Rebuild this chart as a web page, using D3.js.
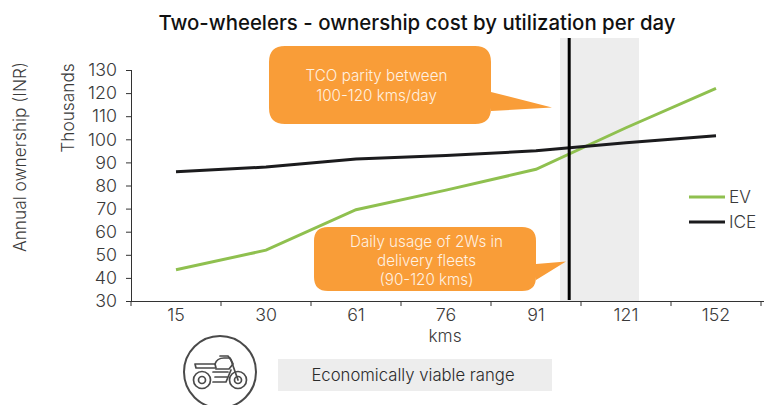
<!DOCTYPE html>
<html><head><meta charset="utf-8">
<script src="https://cdnjs.cloudflare.com/ajax/libs/d3/7.8.5/d3.min.js"></script>
<style>html,body{margin:0;padding:0;background:#fff}svg{display:block}text{font-family:Inter,"Open Sans",sans-serif;fill:#3a3a3a;font-weight:350}</style>
</head><body><svg id="c" width="764" height="405"></svg>
<script>
const categories=["15","30","61","76","91","121","152"];
const evValues=[43.5,52,69.5,78,87,105,122];
const iceValues=[86,88,91.5,93,95,98.5,101.5];
const yTicks=[30,40,50,60,70,80,90,100,110,120,130];
const svg=d3.select("#c");
const x=d3.scaleBand().domain(categories).range([131,761]);
const y=d3.scaleLinear().domain([30,130]).range([301,70]);

svg.append("rect").attr("x",560).attr("y",38).attr("width",79).attr("height",263).attr("fill","#ededed");

const txt=(s,px,py,size,o={})=>svg.append("text").text(s).attr("x",px).attr("y",py).attr("font-size",size)
  .attr("text-anchor",o.anchor||"middle").attr("transform",o.rot?`rotate(-90 ${px} ${py})`:null)
  .style("fill",o.fill||null).style("font-weight",o.weight||null);

txt("Two-wheelers - ownership cost by utilization per day",417,30,20.4,{weight:500,fill:"#111"});
txt("Annual ownership (INR)",26,157,17.3,{rot:true});
txt("Thousands",74,108,17.3,{rot:true});
txt("kms",445,342,17.3);

const gy=svg.append("g").attr("transform","translate(131,0)").call(d3.axisLeft(y).tickValues(yTicks).tickSize(5).tickPadding(9));
const gx=svg.append("g").attr("transform","translate(0,301)").call(d3.axisBottom(x).tickSize(0).tickPadding(7));
[gy,gx].forEach(g=>{g.selectAll("text").attr("font-size",17.8).style("font-family","Inter,sans-serif").style("fill","#3a3a3a");
  g.selectAll("path,line").attr("stroke","#333");});
gy.select("path").attr("d","M0.5,70V301");
gx.select("path").attr("d","M126,0.5H764");
gx.selectAll(".bt").data(x.domain().concat(["end"])).enter().append("line").attr("class","bt")
  .attr("x1",(d,i)=>131+i*x.step()).attr("x2",(d,i)=>131+i*x.step()).attr("y1",0).attr("y2",5).attr("stroke","#333");

const line=d3.line().x((d,i)=>x(categories[i])+x.bandwidth()/2).y(d=>y(d));
svg.append("path").attr("d",line(evValues)).attr("fill","none").attr("stroke","#8fc04f").attr("stroke-width",3);
svg.append("path").attr("d",line(iceValues)).attr("fill","none").attr("stroke","#1b1b1d").attr("stroke-width",3);

svg.append("line").attr("x1",569.2).attr("x2",569.2).attr("y1",38).attr("y2",300).attr("stroke","#000").attr("stroke-width",3);

function callout(l,t,r,b,rad,ty1,ty2,tipx,tipy,lines,cx,ly,lh){
  svg.append("path").attr("fill","#f99d38").attr("d",
   `M${l+rad},${t}H${r-rad}Q${r},${t} ${r},${t+rad}V${ty1}L${tipx},${tipy}L${r},${ty2}V${b-rad}Q${r},${b} ${r-rad},${b}H${l+rad}Q${l},${b} ${l},${b-rad}V${t+rad}Q${l},${t} ${l+rad},${t}Z`);
  lines.forEach((s,i)=>txt(s,cx,ly+i*lh,15.2,{fill:"#fff1e2"}));
}
callout(269,46,491,124,16,92,111,552,107.5,["TCO parity between","100-120 kms/day"],376.5,81,19.5);
callout(314,227,536,291,14,264,280,566,261.5,["Daily usage of 2Ws in","delivery fleets","(90-120 kms)"],426.5,246.5,19);

[["EV","#8fc04f",197],["ICE","#1b1b1d",222]].forEach(([n,c,py])=>{
  svg.append("line").attr("x1",689).attr("x2",725).attr("y1",py).attr("y2",py).attr("stroke",c).attr("stroke-width",3);
  txt(n,729,py+6,17.3,{anchor:"start"});
});

svg.append("rect").attr("x",278).attr("y",359).attr("width",274).attr("height",32).attr("fill","#ededed");
txt("Economically viable range",413,381,16.7,{fill:"#2b2b2b"});

const ic=svg.append("g").attr("fill","none").attr("stroke","#4a4a4a").attr("stroke-width",1.7).attr("stroke-linejoin","round").attr("stroke-linecap","round");
ic.append("circle").attr("cx",220).attr("cy",372).attr("r",36).attr("stroke-width",2);
ic.append("circle").attr("cx",202).attr("cy",380).attr("r",8.5);
ic.append("circle").attr("cx",202).attr("cy",380).attr("r",3.5);
ic.append("circle").attr("cx",238).attr("cy",380).attr("r",8.5);
ic.append("circle").attr("cx",238).attr("cy",380).attr("r",3.5);
ic.append("path").attr("d","M195,364H215L216,368H196Z");
ic.append("path").attr("d","M215,364Q217,358 224,358H230L233,364L229,369H216");
ic.append("path").attr("d","M220,356L228,356L231,360L238,380");
ic.append("path").attr("d","M213,372H228M215,377H227M213,382H226L231,370");
</script></body></html>
